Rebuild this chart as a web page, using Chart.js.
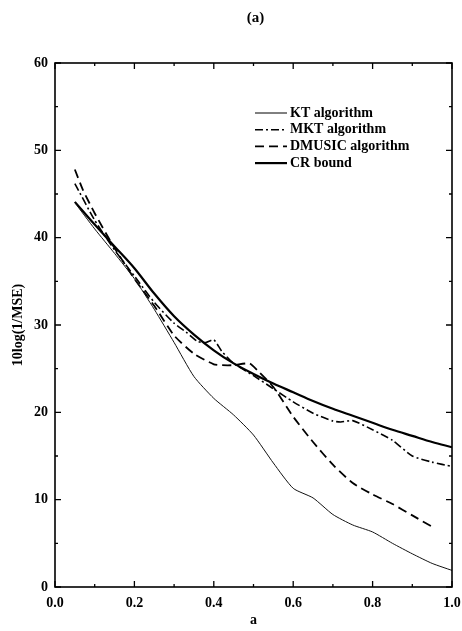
<!DOCTYPE html>
<html>
<head>
    <meta charset="utf-8">
    <title>10log(1/MSE) vs a</title>
    <script src="https://cdn.jsdelivr.net/npm/chart.js"></script>
    <style>
        html, body { margin: 0; padding: 0; background: #fff; }
        #wrap { width: 462px; height: 631px; }
    </style>
</head>
<body>
    <div id="wrap">
        <canvas id="mseChart"></canvas>
    </div>

    <script>
        // series
        const ktA   = [0.05, 0.1, 0.15, 0.2, 0.25, 0.3, 0.35, 0.4, 0.45, 0.5, 0.55, 0.6, 0.65, 0.7, 0.75, 0.8, 0.85, 0.9, 0.95, 1.0];
        const ktY   = [44.0, 41.0, 38.2, 35.3, 31.8, 28.0, 24.1, 21.6, 19.7, 17.4, 14.2, 11.3, 10.2, 8.3, 7.1, 6.3, 5.0, 3.8, 2.7, 1.9];

        const mktA  = [0.05, 0.1, 0.15, 0.2, 0.25, 0.3, 0.33, 0.36, 0.38, 0.4, 0.42, 0.45, 0.5, 0.55, 0.6, 0.65, 0.7, 0.72, 0.75, 0.8, 0.85, 0.9, 0.95, 1.0];
        const mktY  = [46.2, 42.0, 38.6, 35.6, 32.6, 30.2, 29.2, 28.1, 28.0, 28.3, 27.0, 25.6, 24.2, 22.7, 21.2, 19.9, 19.0, 18.9, 19.05, 18.0, 16.8, 15.0, 14.3, 13.8];

        const dmA   = [0.05, 0.07, 0.1, 0.15, 0.2, 0.25, 0.3, 0.35, 0.4, 0.42, 0.45, 0.49, 0.51, 0.55, 0.6, 0.65, 0.7, 0.75, 0.8, 0.85, 0.9, 0.95];
        const dmY   = [47.8, 45.5, 42.8, 38.8, 35.3, 32.2, 28.8, 26.7, 25.5, 25.4, 25.4, 25.6, 24.8, 22.9, 19.5, 16.6, 14.0, 11.9, 10.6, 9.5, 8.2, 6.9];

        const crA   = [0.05, 0.1, 0.15, 0.2, 0.25, 0.3, 0.35, 0.4, 0.45, 0.5, 0.55, 0.6, 0.65, 0.7, 0.75, 0.8, 0.85, 0.9, 0.95, 1.0];
        const crY   = [44.1, 41.5, 39.0, 36.5, 33.6, 31.0, 28.9, 27.1, 25.6, 24.4, 23.3, 22.3, 21.3, 20.4, 19.6, 18.8, 18.0, 17.3, 16.6, 16.0];

        const xMajor = [0, 0.2, 0.4, 0.6, 0.8, 1.0];
        const xMinor = [0.1, 0.3, 0.5, 0.7, 0.9];
        const yMajor = [0, 10, 20, 30, 40, 50, 60];
        const yMinor = [5, 15, 25, 35, 45, 55];

        const serif = "'Liberation Serif', 'DejaVu Serif', serif";
        const textFont = { family: serif, size: 14, weight: 'bold' };

        const toPoints = (xs, ys) => xs.map((x, i) => ({ x: x, y: ys[i] }));

        // frame, inward ticks, panel label and the legend inside the plot
        const framePlugin = {
            id: 'framePlugin',
            afterDraw(chart) {
                const ctx = chart.ctx;
                const a = chart.chartArea;
                const xs = chart.scales.x;
                const ys = chart.scales.y;
                ctx.save();
                ctx.strokeStyle = '#000';
                ctx.lineWidth = 1.6;
                ctx.strokeRect(a.left, a.top, a.right - a.left, a.bottom - a.top);

                ctx.lineWidth = 1.3;
                const tickX = (vals, len) => {
                    vals.forEach(v => {
                        const px = xs.getPixelForValue(v);
                        ctx.beginPath();
                        ctx.moveTo(px, a.bottom); ctx.lineTo(px, a.bottom - len);
                        ctx.moveTo(px, a.top); ctx.lineTo(px, a.top + len);
                        ctx.stroke();
                    });
                };
                const tickY = (vals, len) => {
                    vals.forEach(v => {
                        const py = ys.getPixelForValue(v);
                        ctx.beginPath();
                        ctx.moveTo(a.left, py); ctx.lineTo(a.left + len, py);
                        ctx.moveTo(a.right, py); ctx.lineTo(a.right - len, py);
                        ctx.stroke();
                    });
                };
                tickX(xMajor, 6); tickX(xMinor, 3);
                tickY(yMajor, 6); tickY(yMinor, 3);

                ctx.fillStyle = '#000';
                ctx.textBaseline = 'middle';

                // panel label
                ctx.font = 'bold 15px ' + serif;
                ctx.textAlign = 'center';
                ctx.fillText('(a)', (a.left + a.right) / 2 + 2, 18);

                // legend
                const x0 = 255, x1 = 287, tx = 290;
                let y = 113;
                ctx.font = 'bold 14px ' + serif;
                ctx.textAlign = 'left';
                chart.data.datasets.forEach(ds => {
                    ctx.beginPath();
                    ctx.lineWidth = ds.borderWidth;
                    ctx.setLineDash(ds.borderDash || []);
                    ctx.moveTo(x0, y); ctx.lineTo(x1, y);
                    ctx.stroke();
                    ctx.setLineDash([]);
                    ctx.fillText(ds.label, tx, y);
                    y += 16.7;
                });
                ctx.restore();
            }
        };

        const ctx = document.getElementById('mseChart').getContext('2d');
        new Chart(ctx, {
            type: 'line',
            data: {
                datasets: [
                    { label: 'KT algorithm', data: toPoints(ktA, ktY), borderColor: '#111', borderWidth: 1, borderDash: [], tension: 0.2 },
                    { label: 'MKT algorithm', data: toPoints(mktA, mktY), borderColor: '#000', borderWidth: 1.6, borderDash: [8, 3, 2, 3], tension: 0.2 },
                    { label: 'DMUSIC algorithm', data: toPoints(dmA, dmY), borderColor: '#000', borderWidth: 1.8, borderDash: [9, 5], tension: 0.2 },
                    { label: 'CR bound', data: toPoints(crA, crY), borderColor: '#000', borderWidth: 2.2, borderDash: [], cubicInterpolationMode: 'monotone' }
                ]
            },
            options: {
                responsive: true,
                maintainAspectRatio: false,
                animation: false,
                layout: { padding: { left: 0, right: 10, top: 63, bottom: 0 } },
                elements: { point: { radius: 0 } },
                plugins: {
                    legend: { display: false },
                    tooltip: { enabled: false },
                    title: { display: false }
                },
                scales: {
                    x: {
                        type: 'linear',
                        min: 0, max: 1,
                        grid: { display: false, drawTicks: false },
                        border: { display: false },
                        afterFit: s => { s.height = 44; s.paddingLeft = 0; s.paddingRight = 0; },
                        ticks: {
                            stepSize: 0.2,
                            padding: 8,
                            color: '#000',
                            font: textFont,
                            maxRotation: 0,
                            callback: v => Number(v).toFixed(1)
                        },
                        title: {
                            display: true,
                            text: 'a',
                            color: '#000',
                            font: textFont,
                            padding: { top: 0, bottom: 2 }
                        }
                    },
                    y: {
                        min: 0, max: 60,
                        grid: { display: false, drawTicks: false },
                        border: { display: false },
                        afterFit: s => { s.width = 55; s.paddingTop = 0; s.paddingBottom = 0; },
                        ticks: {
                            stepSize: 10,
                            padding: 7,
                            color: '#000',
                            font: textFont
                        },
                        title: {
                            display: true,
                            text: '10log(1/MSE)',
                            color: '#000',
                            font: textFont,
                            padding: { top: 10, bottom: 0 }
                        }
                    }
                }
            },
            plugins: [framePlugin]
        });
    </script>
</body>
</html>
